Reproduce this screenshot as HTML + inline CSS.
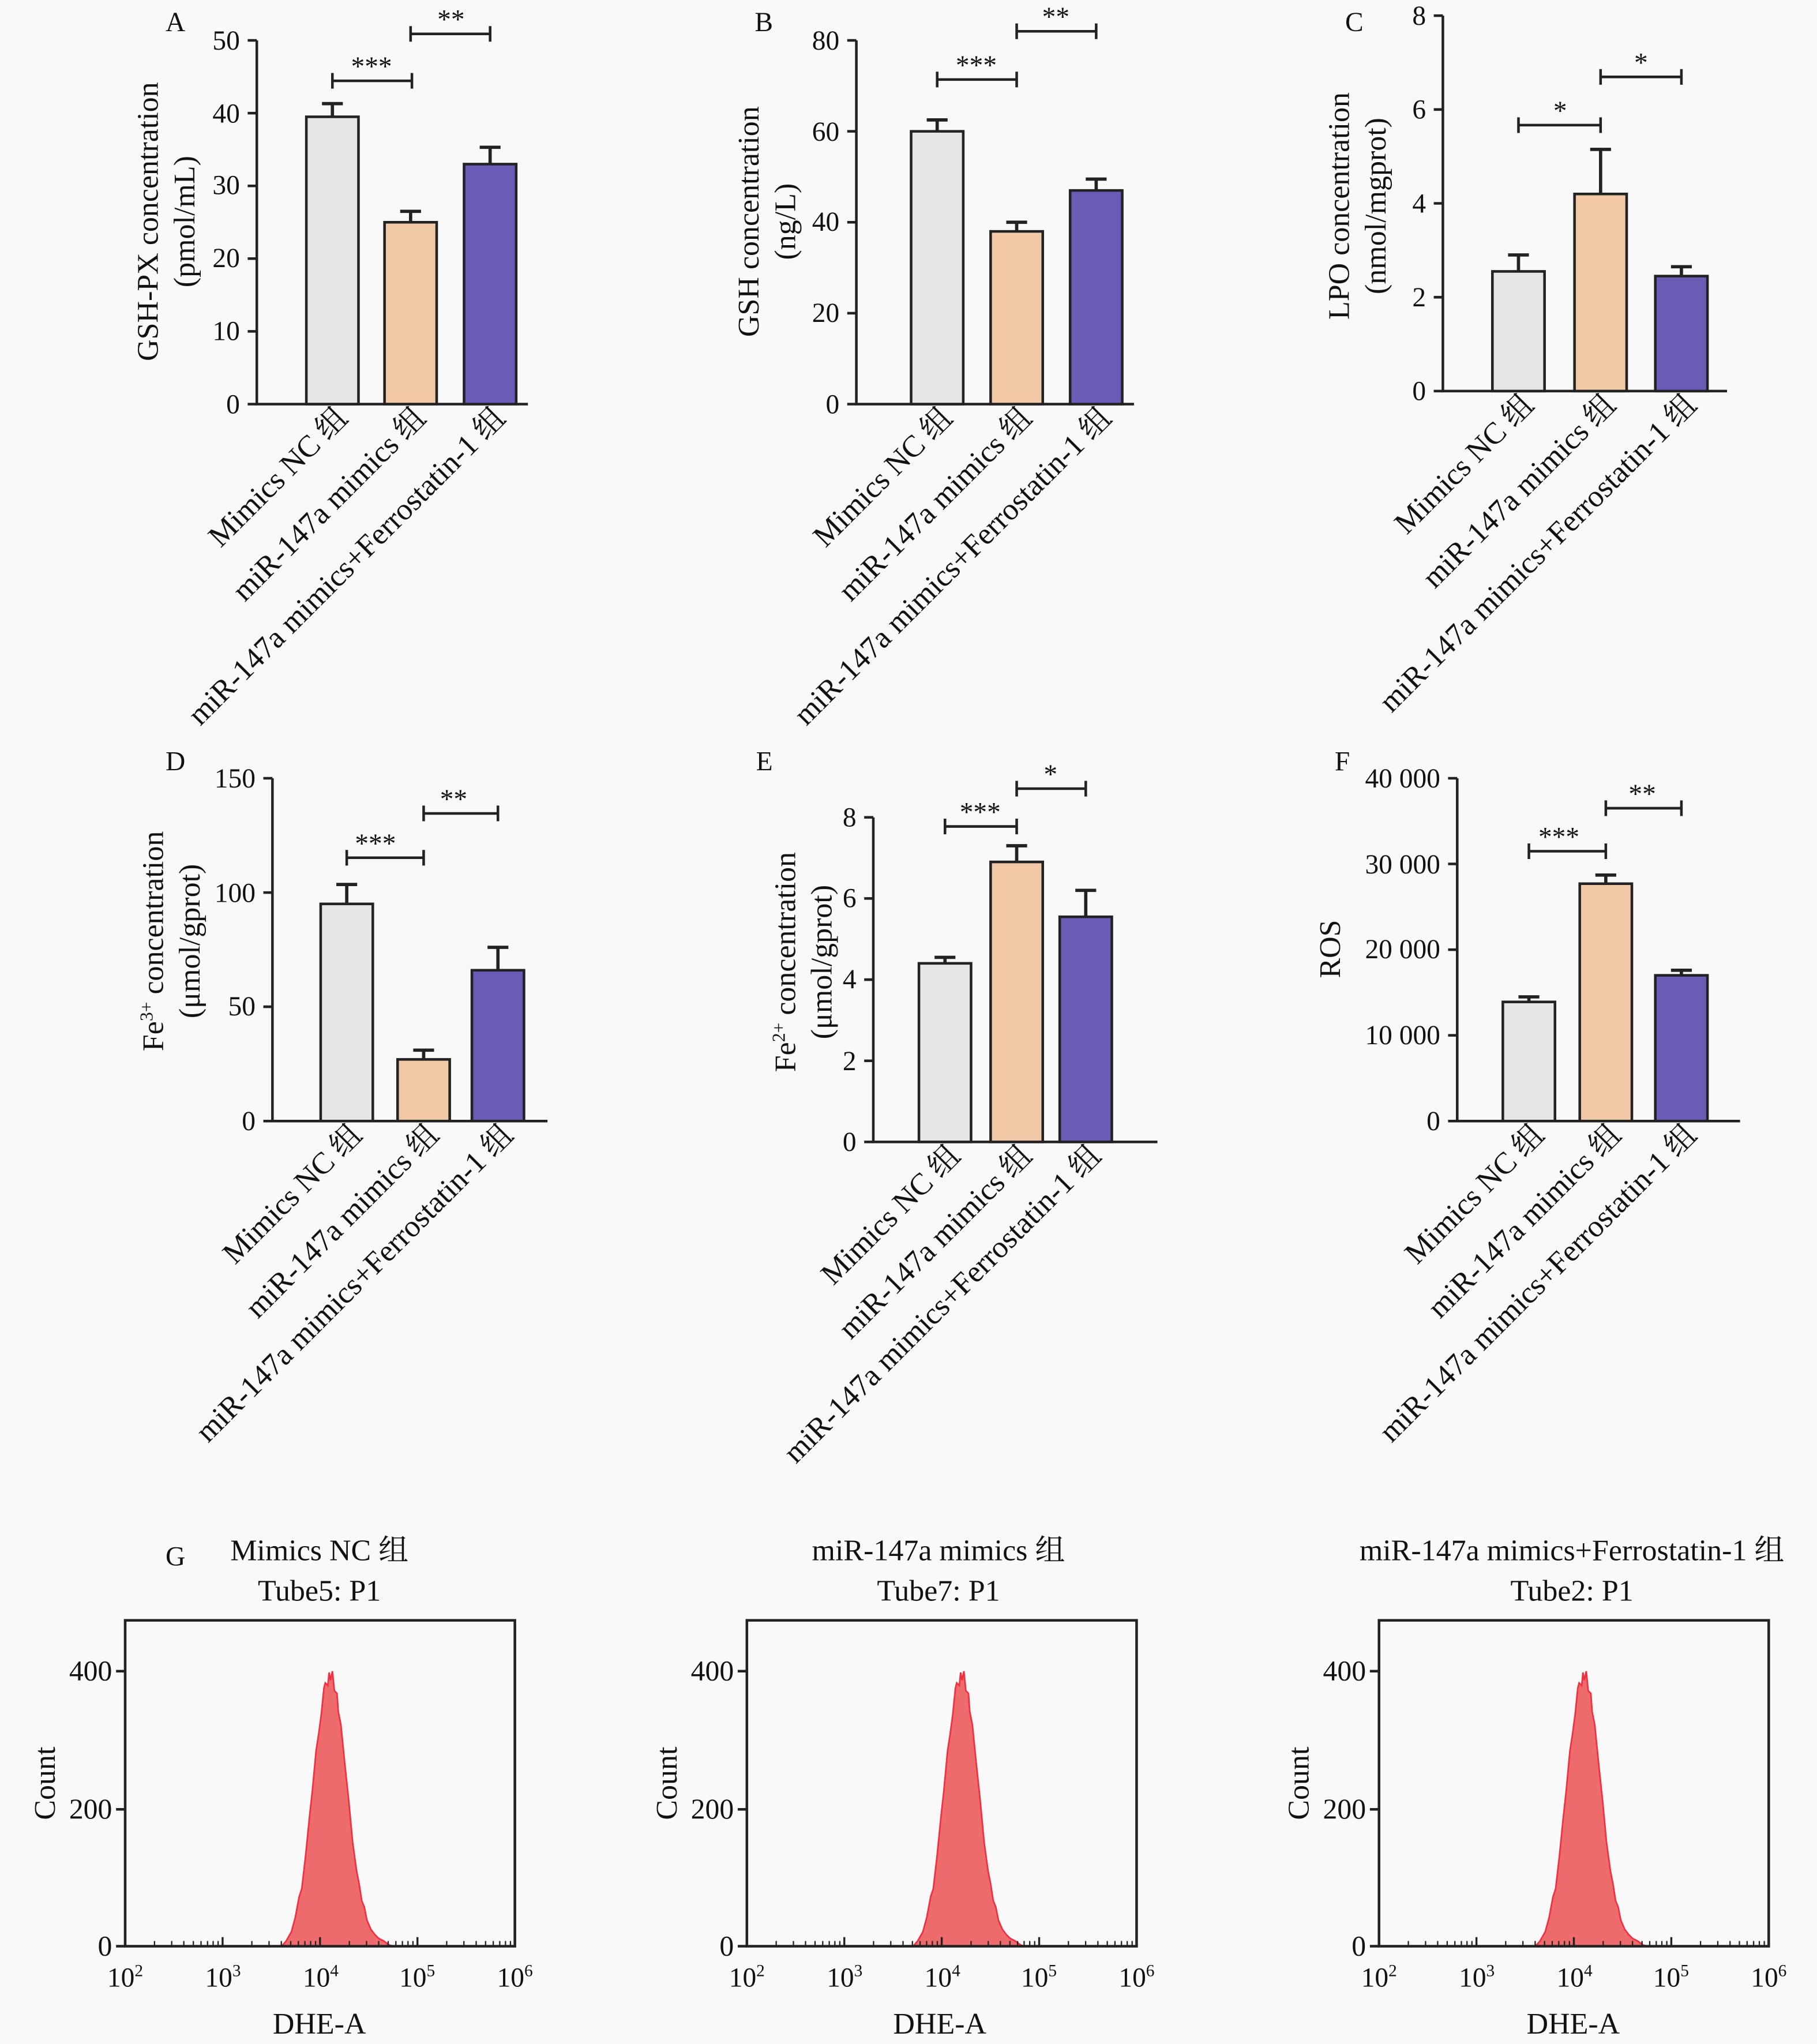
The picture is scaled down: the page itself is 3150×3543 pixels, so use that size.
<!DOCTYPE html>
<html><head><meta charset="utf-8"><style>html,body{margin:0;padding:0;background:#f9f9f9}svg{display:block}</style></head><body>
<svg width="3150" height="3543" viewBox="0 0 1394 1568" xmlns="http://www.w3.org/2000/svg" font-family="Liberation Serif, Noto Serif CJK SC, serif" font-size="21" fill="#111">
<rect width="1394" height="1568" fill="#f9f9f9"/>
<g stroke="#222" stroke-width="2" fill="none">
<path d="M197,31V310H405"/>
<path d="M190,310H197M190,254.2H197M190,198.4H197M190,142.6H197M190,86.8H197M190,31H197"/>
<path d="M657,31V310H870"/>
<path d="M650,310H657M650,240.25H657M650,170.5H657M650,100.75H657M650,31H657"/>
<path d="M1107,12V300H1325"/>
<path d="M1100,300H1107M1100,228H1107M1100,156H1107M1100,84H1107M1100,12H1107"/>
<path d="M209,597V860H420"/>
<path d="M202,860H209M202,772.3H209M202,684.7H209M202,597H209"/>
<path d="M670,627V876H888"/>
<path d="M663,876H670M663,813.75H670M663,751.5H670M663,689.25H670M663,627H670"/>
<path d="M1118,597V860H1335"/>
<path d="M1111,860H1118M1111,794.25H1118M1111,728.5H1118M1111,662.75H1118M1111,597H1118"/>
</g>
<g stroke="#222" stroke-width="2">
<rect x="235" y="89.6" width="40" height="220.4" fill="#e6e6e6"/>
<rect x="295" y="170.5" width="40" height="139.5" fill="#f2c9a7"/>
<rect x="356" y="125.9" width="40" height="184.1" fill="#6a5bb4"/>
<rect x="699" y="100.75" width="40" height="209.25" fill="#e6e6e6"/>
<rect x="760" y="177.5" width="40" height="132.5" fill="#f2c9a7"/>
<rect x="821" y="146.1" width="40" height="163.9" fill="#6a5bb4"/>
<rect x="1145" y="208.2" width="40" height="91.8" fill="#e6e6e6"/>
<rect x="1208" y="148.8" width="40" height="151.2" fill="#f2c9a7"/>
<rect x="1270" y="211.8" width="40" height="88.2" fill="#6a5bb4"/>
<rect x="246" y="693.4" width="40" height="166.6" fill="#e6e6e6"/>
<rect x="305" y="812.7" width="40" height="47.3" fill="#f2c9a7"/>
<rect x="362" y="744.3" width="40" height="115.7" fill="#6a5bb4"/>
<rect x="705" y="739" width="40" height="137" fill="#e6e6e6"/>
<rect x="760" y="661.2" width="40" height="214.8" fill="#f2c9a7"/>
<rect x="813" y="703.3" width="40" height="172.7" fill="#6a5bb4"/>
<rect x="1153" y="768.6" width="40" height="91.4" fill="#e6e6e6"/>
<rect x="1212" y="677.9" width="40" height="182.1" fill="#f2c9a7"/>
<rect x="1270" y="748.2" width="40" height="111.8" fill="#6a5bb4"/>
</g>
<g stroke="#222" stroke-width="2.5" fill="none">
<path d="M255,89.6V79.5M247,79.5H263M315,170.5V162.1M307,162.1H323M376,125.9V113M368,113H384"/>
<path d="M719,100.75V92M711,92H727M780,177.5V170.5M772,170.5H788M841,146.1V137.4M833,137.4H849"/>
<path d="M1165,208.2V195.6M1157,195.6H1173M1228,148.8V114.6M1220,114.6H1236M1290,211.8V204.6M1282,204.6H1298"/>
<path d="M266,693.4V678.5M258,678.5H274M325,812.7V805.6M317,805.6H333M382,744.3V726.7M374,726.7H390"/>
<path d="M725,739V734.4M717,734.4H733M780,661.2V648.8M772,648.8H788M833,703.3V683M825,683H841"/>
<path d="M1173,768.6V764.7M1165,764.7H1181M1232,677.9V671.3M1224,671.3H1240M1290,748.2V744.3M1282,744.3H1298"/>
</g>
<g stroke="#222" stroke-width="2" fill="none">
<path d="M255,56V68M255,62H316M316,56V68"/><path d="M315,20V32M315,26H376M376,20V32"/>
<path d="M719,55V67M719,61H780M780,55V67"/><path d="M780,18V30M780,24H841M841,18V30"/>
<path d="M1165,90V102M1165,96H1228M1228,90V102"/><path d="M1228,53V65M1228,59H1290M1290,53V65"/>
<path d="M266,652V664M266,658H325M325,652V664"/><path d="M325,618V630M325,624H382M382,618V630"/>
<path d="M725,628V640M725,634H780M780,628V640"/><path d="M780,599V611M780,605H833M833,599V611"/>
<path d="M1173,647V659M1173,653H1232M1232,647V659"/><path d="M1232,614V626M1232,620H1290M1290,614V626"/>
</g>
<g text-anchor="middle" font-size="21">
<text x="285" y="58">***</text><text x="346" y="22">**</text>
<text x="749" y="57">***</text><text x="810" y="20">**</text>
<text x="1197" y="92">*</text><text x="1259" y="55">*</text>
<text x="288" y="654">***</text><text x="348" y="620">**</text>
<text x="752" y="630">***</text><text x="806" y="601">*</text>
<text x="1196" y="649">***</text><text x="1260" y="616">**</text>
</g>
<g text-anchor="end">
<text x="184" y="317">0</text><text x="184" y="261">10</text><text x="184" y="205">20</text><text x="184" y="149">30</text><text x="184" y="94">40</text><text x="184" y="38">50</text>
<text x="644" y="317">0</text><text x="644" y="247">20</text><text x="644" y="177">40</text><text x="644" y="108">60</text><text x="644" y="38">80</text>
<text x="1094" y="307">0</text><text x="1094" y="235">2</text><text x="1094" y="163">4</text><text x="1094" y="91">6</text><text x="1094" y="19">8</text>
<text x="196" y="867">0</text><text x="196" y="779">50</text><text x="196" y="692">100</text><text x="196" y="604">150</text>
<text x="657" y="883">0</text><text x="657" y="821">2</text><text x="657" y="758">4</text><text x="657" y="696">6</text><text x="657" y="634">8</text>
<text x="1105" y="867">0</text><text x="1105" y="801">10 000</text><text x="1105" y="735">20 000</text><text x="1105" y="670">30 000</text><text x="1105" y="604">40 000</text>
</g>
<g font-size="21">
<text x="127" y="24">A</text><text x="579" y="24">B</text><text x="1032" y="24">C</text>
<text x="127" y="591">D</text><text x="580" y="591">E</text><text x="1024" y="591">F</text><text x="127" y="1201">G</text>
</g>
<g text-anchor="middle" font-size="23">
<text transform="translate(121,170) rotate(-90)">GSH-PX concentration</text>
<text transform="translate(149,170) rotate(-90)">(pmol/mL)</text>
<text transform="translate(582,170) rotate(-90)">GSH concentration</text>
<text transform="translate(610,170) rotate(-90)">(ng/L)</text>
<text transform="translate(1035,158) rotate(-90)">LPO concentration</text>
<text transform="translate(1063,158) rotate(-90)">(nmol/mgprot)</text>
<text transform="translate(125,722) rotate(-90)">Fe<tspan font-size="14" dy="-8">3+</tspan><tspan dy="8"> concentration</tspan></text>
<text transform="translate(153,722) rotate(-90)">(μmol/gprot)</text>
<text transform="translate(610,738) rotate(-90)">Fe<tspan font-size="14" dy="-8">2+</tspan><tspan dy="8"> concentration</tspan></text>
<text transform="translate(638,738) rotate(-90)">(μmol/gprot)</text>
<text transform="translate(1028,728) rotate(-90)">ROS</text>
</g>
<g text-anchor="end" font-size="23.5">
<text transform="translate(268,322) rotate(-45)">Mimics NC 组</text>
<text transform="translate(328,322) rotate(-45)">miR-147a mimics 组</text>
<text transform="translate(389,322) rotate(-45)">miR-147a mimics+Ferrostatin-1 组</text>
<text transform="translate(732,322) rotate(-45)">Mimics NC 组</text>
<text transform="translate(793,322) rotate(-45)">miR-147a mimics 组</text>
<text transform="translate(854,322) rotate(-45)">miR-147a mimics+Ferrostatin-1 组</text>
<text transform="translate(1178,312) rotate(-45)">Mimics NC 组</text>
<text transform="translate(1241,312) rotate(-45)">miR-147a mimics 组</text>
<text transform="translate(1303,312) rotate(-45)">miR-147a mimics+Ferrostatin-1 组</text>
<text transform="translate(279,872) rotate(-45)">Mimics NC 组</text>
<text transform="translate(338,872) rotate(-45)">miR-147a mimics 组</text>
<text transform="translate(395,872) rotate(-45)">miR-147a mimics+Ferrostatin-1 组</text>
<text transform="translate(738,888) rotate(-45)">Mimics NC 组</text>
<text transform="translate(793,888) rotate(-45)">miR-147a mimics 组</text>
<text transform="translate(846,888) rotate(-45)">miR-147a mimics+Ferrostatin-1 组</text>
<text transform="translate(1186,872) rotate(-45)">Mimics NC 组</text>
<text transform="translate(1245,872) rotate(-45)">miR-147a mimics 组</text>
<text transform="translate(1303,872) rotate(-45)">miR-147a mimics+Ferrostatin-1 组</text>
</g>
<defs>
<path id="h" d="M-37.5,0 L-34,-4 L-30,-11 L-27,-22 L-24,-38 L-22,-44 L-19,-70 L-16,-100 L-14,-118 L-11,-150 L-9,-163 L-7,-178 L-5,-198 L-4,-202 L-2,-200 L-1,-210 L0,-204 L1.5,-211 L3,-196 L5,-194 L6,-180 L8,-170 L11,-140 L14,-112 L17,-80 L20,-58 L22,-48 L24,-35 L26,-30 L28,-20 L31,-13 L34,-9 L37,-6 L41,-4 L45,-1 L48,0 Z" fill="#ee6b6b" stroke="#f03040" stroke-width="1.2"/>
<g id="ax">
<rect x="0" y="0" width="299" height="250" fill="none" stroke="#222" stroke-width="2"/>
<path d="M0,39H-7M0,145H-7M0,250H-7" stroke="#222" stroke-width="2"/>
<path d="M0,250v-7M74.75,250v-7M149.5,250v-7M224.25,250v-7M299,250v-7" stroke="#222" stroke-width="1.5"/>
<path stroke="#222" stroke-width="1" d="M22.5,250v-4M35.7,250v-4M45,250v-4M52.3,250v-4M58.2,250v-4M63.2,250v-4M67.5,250v-4M71.3,250v-4M97.2,250v-4M110.4,250v-4M119.8,250v-4M127,250v-4M132.9,250v-4M137.9,250v-4M142.3,250v-4M146.1,250v-4M172,250v-4M185.2,250v-4M194.5,250v-4M201.8,250v-4M207.7,250v-4M212.7,250v-4M217,250v-4M220.8,250v-4M246.7,250v-4M259.9,250v-4M269.3,250v-4M276.5,250v-4M282.4,250v-4M287.4,250v-4M291.8,250v-4M295.6,250v-4"/>
</g>
</defs>
<use href="#h" transform="translate(253.5,1493)"/>
<use href="#ax" transform="translate(96,1243)"/>
<use href="#h" transform="translate(738,1493)"/>
<use href="#ax" transform="translate(573,1243)"/>
<use href="#h" transform="translate(1215.5,1493)"/>
<use href="#ax" transform="translate(1058,1243)"/>
<g text-anchor="end" font-size="22">
<text x="86" y="1289">400</text><text x="86" y="1395">200</text><text x="86" y="1500">0</text>
<text x="563" y="1289">400</text><text x="563" y="1395">200</text><text x="563" y="1500">0</text>
<text x="1048" y="1289">400</text><text x="1048" y="1395">200</text><text x="1048" y="1500">0</text>
</g>
<g text-anchor="middle" font-size="23">
<text transform="translate(42,1368) rotate(-90)">Count</text>
<text transform="translate(519,1368) rotate(-90)">Count</text>
<text transform="translate(1004,1368) rotate(-90)">Count</text>
<text x="245" y="1197">Mimics NC 组</text><text x="245" y="1228">Tube5: P1</text>
<text x="720" y="1197">miR-147a mimics 组</text><text x="720" y="1228">Tube7: P1</text>
<text x="1206" y="1197">miR-147a mimics+Ferrostatin-1 组</text><text x="1206" y="1228">Tube2: P1</text>
<text x="245" y="1560">DHE-A</text><text x="721" y="1560">DHE-A</text><text x="1207" y="1560">DHE-A</text>
</g>
<g text-anchor="middle" font-size="21">
<text x="96" y="1524">10<tspan font-size="13" dy="-8">2</tspan></text>
<text x="171" y="1524">10<tspan font-size="13" dy="-8">3</tspan></text>
<text x="246" y="1524">10<tspan font-size="13" dy="-8">4</tspan></text>
<text x="320" y="1524">10<tspan font-size="13" dy="-8">5</tspan></text>
<text x="395" y="1524">10<tspan font-size="13" dy="-8">6</tspan></text>
<text x="573" y="1524">10<tspan font-size="13" dy="-8">2</tspan></text>
<text x="648" y="1524">10<tspan font-size="13" dy="-8">3</tspan></text>
<text x="723" y="1524">10<tspan font-size="13" dy="-8">4</tspan></text>
<text x="797" y="1524">10<tspan font-size="13" dy="-8">5</tspan></text>
<text x="872" y="1524">10<tspan font-size="13" dy="-8">6</tspan></text>
<text x="1058" y="1524">10<tspan font-size="13" dy="-8">2</tspan></text>
<text x="1133" y="1524">10<tspan font-size="13" dy="-8">3</tspan></text>
<text x="1208" y="1524">10<tspan font-size="13" dy="-8">4</tspan></text>
<text x="1282" y="1524">10<tspan font-size="13" dy="-8">5</tspan></text>
<text x="1357" y="1524">10<tspan font-size="13" dy="-8">6</tspan></text>
</g>
</svg>
</body></html>
